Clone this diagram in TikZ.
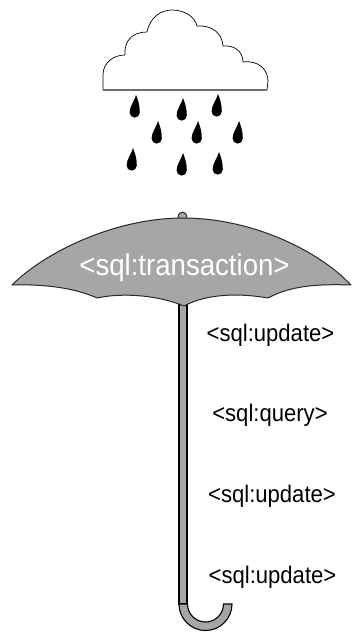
\documentclass[tikz,border=0pt]{standalone}
\usepackage{fontspec}
\newfontfamily\tagfont[FakeStretch=0.92]{Liberation Sans}
\definecolor{canopygray}{RGB}{166,166,166}
\definecolor{edgegray}{RGB}{40,40,40}
\definecolor{cloudbase}{RGB}{110,110,110}
\tikzset{
  tag/.style={font=\tagfont\fontsize{24}{28}\selectfont, text=black, anchor=base, inner sep=0pt},
  bigtag/.style={font=\tagfont\fontsize{30}{34}\selectfont, text=white, anchor=base, inner sep=0pt},
  cloudline/.style={draw=black, line width=0.7pt, fill=white, line join=round},
  canopy/.style={draw=edgegray, line width=1pt, fill=canopygray, line join=round},
  shaft/.style={draw=black, line width=1.1pt, fill=canopygray},
  raindrop/.pic={
    \fill[black] (0,0) .. controls (2,5) and (3.8,10) .. (3.8,17.5)
      arc[start angle=0, end angle=180, radius=5.1]
      .. controls (-6.4,11) and (-1.5,6) .. cycle;
  }
}
\begin{document}
\begin{tikzpicture}[x=1pt, y=-1pt]
\useasboundingbox (0,0) rectangle (352,632);

% cloud
\path[cloudline] (103,90) -- (103,75)
  .. controls (103,63) and (113,55) .. (125,55)
  .. controls (124,40) and (133,32) .. (147,32)
  .. controls (150,17) and (161,10) .. (172,10)
  .. controls (185,10) and (195,17) .. (197,26)
  .. controls (212,25) and (222,33) .. (223,46)
  .. controls (235,45) and (243,52) .. (243,62)
  .. controls (259,60) and (268,70) .. (268,81)
  -- (267,90) -- cycle;
\draw[cloudbase, line width=1.4pt] (103,90) -- (267,90);

% rain
\foreach \x/\y in {136/95, 183/98, 218/94, 158/121, 198/121, 239/121,
                   133/148, 183/153, 219/152}
  \pic at (\x,\y) {raindrop};

% handle: shaft and hook
\path[shaft] (179,300) rectangle (187,604);
\path[shaft] (179,604) arc[start angle=180, end angle=0, radius=26.5]
  -- (223.5,604) arc[start angle=0, end angle=180, radius=18] -- cycle;

% knob on top
\path[canopy] (178,218.5) .. controls (178,214) and (180,212) .. (182.5,212)
  .. controls (185,212) and (187,214) .. (187,218.5) -- cycle;

% canopy
\path[canopy] (12,285)
  .. controls (45,252) and (115,218) .. (183,218)
  .. controls (251,218) and (318,250) .. (351,285)
  .. controls (320,284) and (292,285) .. (268,298)
  .. controls (245,294) and (210,292) .. (184,306)
  .. controls (160,296) and (125,292) .. (97,298)
  .. controls (75,288) and (45,284) .. cycle;

% labels
\node[bigtag] (txn) at (184.5,275) {<sql:transaction>};
\node[tag] (upd1) at (270.5,341) {<sql:update>};
\node[tag] (qry)  at (270,421) {<sql:query>};
\node[tag] (upd2) at (272,502) {<sql:update>};
\node[tag] (upd3) at (272.5,583) {<sql:update>};
\end{tikzpicture}
\end{document}
